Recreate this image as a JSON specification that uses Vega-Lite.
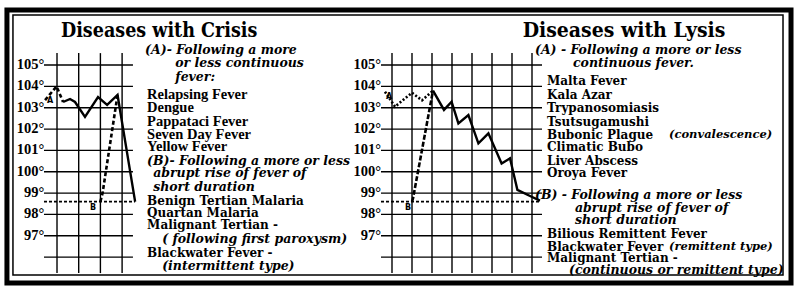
{
  "$schema": "https://vega.github.io/schema/vega-lite/v6.json",
  "width": 800,
  "height": 294,
  "autosize": {"type": "fit", "contains": "padding"},
  "padding": 0,
  "background": "white",
  "config": {"view": {"stroke": null}},
  "datasets": {
    "gridT": [{"temp": 96}, {"temp": 97}, {"temp": 98}, {"temp": 99}, {"temp": 100}, {"temp": 101}, {"temp": 102}, {"temp": 103}, {"temp": 104}, {"temp": 105}],
    "ticks": [
      {"temp": 97, "label": "97°"}, {"temp": 98, "label": "98°"}, {"temp": 99, "label": "99°"},
      {"temp": 100, "label": "100°"}, {"temp": 101, "label": "101°"}, {"temp": 102, "label": "102°"},
      {"temp": 103, "label": "103°"}, {"temp": 104, "label": "104°"}, {"temp": 105, "label": "105°"}
    ],
    "crisisDays": [{"day": 1}, {"day": 2}, {"day": 3}, {"day": 4}],
    "lysisDays": [{"day": 1}, {"day": 2}, {"day": 3}, {"day": 4}, {"day": 5}, {"day": 6}, {"day": 7}, {"day": 8}],
    "crisisCurves": [
      {"series": "A onset", "day": 0.45, "temp": 103.36},
      {"series": "A onset", "day": 0.98, "temp": 104.0},
      {"series": "A onset", "day": 1.28, "temp": 103.27},
      {"series": "A", "day": 1.28, "temp": 103.27},
      {"series": "A", "day": 1.6, "temp": 103.41},
      {"series": "A", "day": 1.83, "temp": 103.27},
      {"series": "A", "day": 2.29, "temp": 102.57},
      {"series": "A", "day": 2.89, "temp": 103.5},
      {"series": "A", "day": 3.31, "temp": 103.13},
      {"series": "A", "day": 3.79, "temp": 103.6},
      {"series": "A", "day": 4.6, "temp": 98.6},
      {"series": "B onset", "day": 3.0, "temp": 98.6},
      {"series": "B onset", "day": 3.1, "temp": 99.0},
      {"series": "B onset", "day": 3.79, "temp": 103.6},
      {"series": "Normal", "day": 0.4, "temp": 98.6},
      {"series": "Normal", "day": 4.6, "temp": 98.6}
    ],
    "lysisCurves": [
      {"series": "A onset", "day": 0.65, "temp": 103.75},
      {"series": "A onset", "day": 1.15, "temp": 103.05},
      {"series": "A onset", "day": 2.0, "temp": 103.7},
      {"series": "A onset", "day": 2.5, "temp": 103.35},
      {"series": "A onset", "day": 3.05, "temp": 103.8},
      {"series": "A", "day": 3.05, "temp": 103.8},
      {"series": "A", "day": 3.6, "temp": 102.9},
      {"series": "A", "day": 3.98, "temp": 103.28},
      {"series": "A", "day": 4.32, "temp": 102.27},
      {"series": "A", "day": 4.82, "temp": 102.66},
      {"series": "A", "day": 5.32, "temp": 101.33},
      {"series": "A", "day": 5.82, "temp": 101.8},
      {"series": "A", "day": 6.48, "temp": 100.39},
      {"series": "A", "day": 6.9, "temp": 100.63},
      {"series": "A", "day": 7.27, "temp": 99.15},
      {"series": "A", "day": 7.98, "temp": 98.83},
      {"series": "A", "day": 8.4, "temp": 98.65},
      {"series": "B onset", "day": 2.0, "temp": 98.6},
      {"series": "B onset", "day": 2.05, "temp": 98.75},
      {"series": "B onset", "day": 3.05, "temp": 103.8},
      {"series": "Normal", "day": 0.45, "temp": 98.6},
      {"series": "Normal", "day": 8.4, "temp": 98.6}
    ],
    "crisisText": [
      {"kind": "title", "group": "", "text": "Diseases with Crisis", "day": 5.707, "temp": 106.6},
      {"kind": "note", "group": "A", "text": "(A)- Following a more", "day": 5.06, "temp": 105.706},
      {"kind": "note", "group": "A", "text": "or less continuous", "day": 6.45, "temp": 105.097},
      {"kind": "note", "group": "A", "text": "fever:", "day": 6.45, "temp": 104.441},
      {"kind": "disease", "group": "A", "text": "Relapsing Fever", "day": 5.153, "temp": 103.597},
      {"kind": "disease", "group": "A", "text": "Dengue", "day": 5.153, "temp": 102.988},
      {"kind": "disease", "group": "A", "text": "Pappataci Fever", "day": 5.153, "temp": 102.332},
      {"kind": "disease", "group": "A", "text": "Seven Day Fever", "day": 5.153, "temp": 101.722},
      {"kind": "disease", "group": "A", "text": "Yellow Fever", "day": 5.153, "temp": 101.16},
      {"kind": "note", "group": "B", "text": "(B)- Following a more or less", "day": 5.153, "temp": 100.504},
      {"kind": "note", "group": "B", "text": "abrupt rise of fever of", "day": 5.43, "temp": 99.941},
      {"kind": "note", "group": "B", "text": "short duration", "day": 5.43, "temp": 99.285},
      {"kind": "disease", "group": "B", "text": "Benign Tertian Malaria", "day": 5.153, "temp": 98.629},
      {"kind": "disease", "group": "B", "text": "Quartan Malaria", "day": 5.153, "temp": 98.067},
      {"kind": "disease", "group": "B", "text": "Malignant Tertian -", "day": 5.153, "temp": 97.504},
      {"kind": "note", "group": "B", "text": "( following first paroxysm)", "day": 5.845, "temp": 96.848},
      {"kind": "disease", "group": "B", "text": "Blackwater Fever -", "day": 5.153, "temp": 96.192},
      {"kind": "note", "group": "B", "text": "(intermittent type)", "day": 5.845, "temp": 95.582},
      {"kind": "mark", "group": "A", "text": "A", "day": 0.68, "temp": 103.32},
      {"kind": "mark", "group": "B", "text": "B", "day": 2.66, "temp": 98.3}
    ],
    "lysisText": [
      {"kind": "title", "text": "Diseases with Lysis", "day": 12.6, "temp": 106.6},
      {"kind": "note", "text": "(A) - Following a more or less", "day": 8.15, "temp": 105.706},
      {"kind": "note", "text": "continuous fever.", "day": 10.05, "temp": 105.097},
      {"kind": "disease", "text": "Malta Fever", "day": 8.75, "temp": 104.253},
      {"kind": "disease", "text": "Kala Azar", "day": 8.75, "temp": 103.597},
      {"kind": "disease", "text": "Trypanosomiasis", "day": 8.75, "temp": 102.988},
      {"kind": "disease", "text": "Tsutsugamushi", "day": 8.75, "temp": 102.332},
      {"kind": "disease", "text": "Bubonic Plague", "day": 8.75, "temp": 101.722},
      {"kind": "qualifier", "text": "(convalescence)", "day": 14.85, "temp": 101.722},
      {"kind": "disease", "text": "Climatic Bubo", "day": 8.75, "temp": 101.16},
      {"kind": "disease", "text": "Liver Abscess", "day": 8.75, "temp": 100.504},
      {"kind": "disease", "text": "Oroya Fever", "day": 8.75, "temp": 99.941},
      {"kind": "note", "text": "(B) - Following a more or less", "day": 8.15, "temp": 98.91},
      {"kind": "note", "text": "abrupt rise of fever of", "day": 10.15, "temp": 98.301},
      {"kind": "note", "text": "short duration", "day": 10.15, "temp": 97.738},
      {"kind": "disease", "text": "Bilious Remittent Fever", "day": 8.75, "temp": 97.082},
      {"kind": "disease", "text": "Blackwater Fever", "day": 8.75, "temp": 96.473},
      {"kind": "qualifier", "text": "(remittent type)", "day": 14.85, "temp": 96.473},
      {"kind": "disease", "text": "Malignant Tertian -", "day": 8.75, "temp": 95.957},
      {"kind": "note", "text": "(continuous or remittent type)", "day": 9.85, "temp": 95.395},
      {"kind": "mark", "text": "A", "day": 0.85, "temp": 103.5},
      {"kind": "mark", "text": "B", "day": 1.8, "temp": 98.3}
    ]
  },
  "resolve": {"scale": {"x": "independent"}},
  "layer": [
    {
      "layer": [
        {
          "data": {"values": [{"frame": "outer"}]},
          "mark": {"type": "rect", "fillOpacity": 0, "stroke": "black", "strokeWidth": 5},
          "encoding": {
            "x": {"datum": -1.307, "type": "quantitative", "scale": {"domain": [-1.627, 35.24], "nice": false, "zero": false}, "axis": null},
            "x2": {"datum": 34.826},
            "y": {"datum": 107.581, "type": "quantitative", "scale": {"domain": [94.27, 108.05], "nice": false, "zero": false}, "axis": null},
            "y2": {"datum": 94.785}
          }
        },
        {
          "data": {"values": [{"frame": "inner"}]},
          "mark": {"type": "rect", "fillOpacity": 0, "stroke": "black", "strokeWidth": 1.5},
          "encoding": {
            "x": {"datum": -1.03, "type": "quantitative", "scale": {"domain": [-1.627, 35.24], "nice": false, "zero": false}, "axis": null},
            "x2": {"datum": 34.457},
            "y": {"datum": 107.347, "type": "quantitative", "scale": {"domain": [94.27, 108.05], "nice": false, "zero": false}, "axis": null},
            "y2": {"datum": 95.16}
          }
        },
        {
          "data": {"name": "gridT"},
          "mark": {"type": "rule", "color": "black", "strokeWidth": 1.4},
          "encoding": {
            "x": {"datum": 0.4, "type": "quantitative", "scale": {"domain": [-1.627, 35.24], "nice": false, "zero": false}, "axis": null},
            "x2": {"datum": 4.5},
            "y": {"field": "temp", "type": "quantitative", "scale": {"domain": [94.27, 108.05], "nice": false, "zero": false}, "axis": null}
          }
        },
        {
          "data": {"name": "crisisDays"},
          "mark": {"type": "rule", "color": "black", "strokeWidth": 1.4},
          "encoding": {
            "x": {"field": "day", "type": "quantitative", "scale": {"domain": [-1.627, 35.24], "nice": false, "zero": false}, "axis": null},
            "y": {"datum": 95.25, "type": "quantitative", "scale": {"domain": [94.27, 108.05], "nice": false, "zero": false}, "axis": null},
            "y2": {"datum": 105.56}
          }
        },
        {
          "data": {"name": "ticks"},
          "mark": {"type": "text", "align": "right", "baseline": "middle", "font": "Liberation Serif", "fontWeight": "bold", "fontSize": 14.5, "color": "black"},
          "encoding": {
            "x": {"datum": 0.42, "type": "quantitative", "scale": {"domain": [-1.627, 35.24], "nice": false, "zero": false}, "axis": null},
            "y": {"field": "temp", "type": "quantitative", "scale": {"domain": [94.27, 108.05], "nice": false, "zero": false}, "axis": null},
            "text": {"field": "label"}
          }
        },
        {
          "data": {"name": "crisisCurves"},
          "transform": [{"filter": "datum.series === 'Normal'"}],
          "mark": {"type": "line", "color": "black", "strokeWidth": 1.8, "strokeDash": [3, 2]},
          "encoding": {
            "x": {"field": "day", "type": "quantitative", "scale": {"domain": [-1.627, 35.24], "nice": false, "zero": false}, "axis": null},
            "y": {"field": "temp", "type": "quantitative", "scale": {"domain": [94.27, 108.05], "nice": false, "zero": false}, "axis": null},
            "detail": {"field": "series"}
          }
        },
        {
          "data": {"name": "crisisCurves"},
          "transform": [{"filter": "datum.series === 'A onset' || datum.series === 'B onset'"}],
          "mark": {"type": "line", "color": "black", "strokeWidth": 2.6, "strokeDash": [4, 2.5]},
          "encoding": {
            "x": {"field": "day", "type": "quantitative", "scale": {"domain": [-1.627, 35.24], "nice": false, "zero": false}, "axis": null},
            "y": {"field": "temp", "type": "quantitative", "scale": {"domain": [94.27, 108.05], "nice": false, "zero": false}, "axis": null},
            "detail": {"field": "series"}
          }
        },
        {
          "data": {"name": "crisisCurves"},
          "transform": [{"filter": "datum.series === 'A'"}],
          "mark": {"type": "line", "color": "black", "strokeWidth": 2.4},
          "encoding": {
            "x": {"field": "day", "type": "quantitative", "scale": {"domain": [-1.627, 35.24], "nice": false, "zero": false}, "axis": null},
            "y": {"field": "temp", "type": "quantitative", "scale": {"domain": [94.27, 108.05], "nice": false, "zero": false}, "axis": null},
            "detail": {"field": "series"}
          }
        },
        {
          "data": {"name": "crisisText"},
          "transform": [{"filter": "datum.kind === 'title'"}],
          "mark": {"type": "text", "align": "center", "baseline": "middle", "font": "DejaVu Serif Condensed", "fontWeight": "bold", "fontSize": 19.5, "color": "black"},
          "encoding": {
            "x": {"field": "day", "type": "quantitative", "scale": {"domain": [-1.627, 35.24], "nice": false, "zero": false}, "axis": null},
            "y": {"field": "temp", "type": "quantitative", "scale": {"domain": [94.27, 108.05], "nice": false, "zero": false}, "axis": null},
            "text": {"field": "text"}
          }
        },
        {
          "data": {"name": "crisisText"},
          "transform": [{"filter": "datum.kind === 'note'"}],
          "mark": {"type": "text", "align": "left", "baseline": "middle", "font": "DejaVu Serif", "fontStyle": "italic", "fontWeight": "bold", "fontSize": 12.5, "color": "black"},
          "encoding": {
            "x": {"field": "day", "type": "quantitative", "scale": {"domain": [-1.627, 35.24], "nice": false, "zero": false}, "axis": null},
            "y": {"field": "temp", "type": "quantitative", "scale": {"domain": [94.27, 108.05], "nice": false, "zero": false}, "axis": null},
            "text": {"field": "text"}
          }
        },
        {
          "data": {"name": "crisisText"},
          "transform": [{"filter": "datum.kind === 'disease' && datum.group === 'A'"}],
          "mark": {"type": "text", "align": "left", "baseline": "middle", "font": "Liberation Serif", "fontWeight": "bold", "fontSize": 14.5, "color": "black"},
          "encoding": {
            "x": {"field": "day", "type": "quantitative", "scale": {"domain": [-1.627, 35.24], "nice": false, "zero": false}, "axis": null},
            "y": {"field": "temp", "type": "quantitative", "scale": {"domain": [94.27, 108.05], "nice": false, "zero": false}, "axis": null},
            "text": {"field": "text"}
          }
        },
        {
          "data": {"name": "crisisText"},
          "transform": [{"filter": "datum.kind === 'disease' && datum.group === 'B'"}],
          "mark": {"type": "text", "align": "left", "baseline": "middle", "font": "DejaVu Serif", "fontWeight": "bold", "fontSize": 12, "color": "black"},
          "encoding": {
            "x": {"field": "day", "type": "quantitative", "scale": {"domain": [-1.627, 35.24], "nice": false, "zero": false}, "axis": null},
            "y": {"field": "temp", "type": "quantitative", "scale": {"domain": [94.27, 108.05], "nice": false, "zero": false}, "axis": null},
            "text": {"field": "text"}
          }
        },
        {
          "data": {"name": "crisisText"},
          "transform": [{"filter": "datum.kind === 'mark'"}],
          "mark": {"type": "text", "align": "center", "baseline": "middle", "font": "DejaVu Sans", "fontWeight": "bold", "fontSize": 8, "color": "black"},
          "encoding": {
            "x": {"field": "day", "type": "quantitative", "scale": {"domain": [-1.627, 35.24], "nice": false, "zero": false}, "axis": null},
            "y": {"field": "temp", "type": "quantitative", "scale": {"domain": [94.27, 108.05], "nice": false, "zero": false}, "axis": null},
            "text": {"field": "text"}
          }
        }
      ]
    },
    {
      "layer": [
        {
          "data": {"name": "gridT"},
          "mark": {"type": "rule", "color": "black", "strokeWidth": 1.4},
          "encoding": {
            "x": {"datum": 0.45, "type": "quantitative", "scale": {"domain": [-18.6, 21.4], "nice": false, "zero": false}, "axis": null},
            "x2": {"datum": 8.5},
            "y": {"field": "temp", "type": "quantitative", "scale": {"domain": [94.27, 108.05], "nice": false, "zero": false}, "axis": null}
          }
        },
        {
          "data": {"name": "lysisDays"},
          "mark": {"type": "rule", "color": "black", "strokeWidth": 1.4},
          "encoding": {
            "x": {"field": "day", "type": "quantitative", "scale": {"domain": [-18.6, 21.4], "nice": false, "zero": false}, "axis": null},
            "y": {"datum": 95.25, "type": "quantitative", "scale": {"domain": [94.27, 108.05], "nice": false, "zero": false}, "axis": null},
            "y2": {"datum": 105.56}
          }
        },
        {
          "data": {"name": "ticks"},
          "mark": {"type": "text", "align": "right", "baseline": "middle", "font": "Liberation Serif", "fontWeight": "bold", "fontSize": 14.5, "color": "black"},
          "encoding": {
            "x": {"datum": 0.45, "type": "quantitative", "scale": {"domain": [-18.6, 21.4], "nice": false, "zero": false}, "axis": null},
            "y": {"field": "temp", "type": "quantitative", "scale": {"domain": [94.27, 108.05], "nice": false, "zero": false}, "axis": null},
            "text": {"field": "label"}
          }
        },
        {
          "data": {"name": "lysisCurves"},
          "transform": [{"filter": "datum.series === 'Normal'"}],
          "mark": {"type": "line", "color": "black", "strokeWidth": 1.8, "strokeDash": [3, 2]},
          "encoding": {
            "x": {"field": "day", "type": "quantitative", "scale": {"domain": [-18.6, 21.4], "nice": false, "zero": false}, "axis": null},
            "y": {"field": "temp", "type": "quantitative", "scale": {"domain": [94.27, 108.05], "nice": false, "zero": false}, "axis": null},
            "detail": {"field": "series"}
          }
        },
        {
          "data": {"name": "lysisCurves"},
          "transform": [{"filter": "datum.series === 'A onset'"}],
          "mark": {"type": "line", "color": "black", "strokeWidth": 2.6, "strokeDash": [2, 2]},
          "encoding": {
            "x": {"field": "day", "type": "quantitative", "scale": {"domain": [-18.6, 21.4], "nice": false, "zero": false}, "axis": null},
            "y": {"field": "temp", "type": "quantitative", "scale": {"domain": [94.27, 108.05], "nice": false, "zero": false}, "axis": null},
            "detail": {"field": "series"}
          }
        },
        {
          "data": {"name": "lysisCurves"},
          "transform": [{"filter": "datum.series === 'B onset'"}],
          "mark": {"type": "line", "color": "black", "strokeWidth": 2.6, "strokeDash": [5, 2]},
          "encoding": {
            "x": {"field": "day", "type": "quantitative", "scale": {"domain": [-18.6, 21.4], "nice": false, "zero": false}, "axis": null},
            "y": {"field": "temp", "type": "quantitative", "scale": {"domain": [94.27, 108.05], "nice": false, "zero": false}, "axis": null},
            "detail": {"field": "series"}
          }
        },
        {
          "data": {"name": "lysisCurves"},
          "transform": [{"filter": "datum.series === 'A'"}],
          "mark": {"type": "line", "color": "black", "strokeWidth": 2.4},
          "encoding": {
            "x": {"field": "day", "type": "quantitative", "scale": {"domain": [-18.6, 21.4], "nice": false, "zero": false}, "axis": null},
            "y": {"field": "temp", "type": "quantitative", "scale": {"domain": [94.27, 108.05], "nice": false, "zero": false}, "axis": null},
            "detail": {"field": "series"}
          }
        },
        {
          "data": {"name": "lysisText"},
          "transform": [{"filter": "datum.kind === 'title'"}],
          "mark": {"type": "text", "align": "center", "baseline": "middle", "font": "DejaVu Serif Condensed", "fontWeight": "bold", "fontSize": 21, "color": "black"},
          "encoding": {
            "x": {"field": "day", "type": "quantitative", "scale": {"domain": [-18.6, 21.4], "nice": false, "zero": false}, "axis": null},
            "y": {"field": "temp", "type": "quantitative", "scale": {"domain": [94.27, 108.05], "nice": false, "zero": false}, "axis": null},
            "text": {"field": "text"}
          }
        },
        {
          "data": {"name": "lysisText"},
          "transform": [{"filter": "datum.kind === 'note'"}],
          "mark": {"type": "text", "align": "left", "baseline": "middle", "font": "DejaVu Serif", "fontStyle": "italic", "fontWeight": "bold", "fontSize": 12.5, "color": "black"},
          "encoding": {
            "x": {"field": "day", "type": "quantitative", "scale": {"domain": [-18.6, 21.4], "nice": false, "zero": false}, "axis": null},
            "y": {"field": "temp", "type": "quantitative", "scale": {"domain": [94.27, 108.05], "nice": false, "zero": false}, "axis": null},
            "text": {"field": "text"}
          }
        },
        {
          "data": {"name": "lysisText"},
          "transform": [{"filter": "datum.kind === 'qualifier'"}],
          "mark": {"type": "text", "align": "left", "baseline": "middle", "font": "DejaVu Serif", "fontStyle": "italic", "fontWeight": "bold", "fontSize": 11.5, "color": "black"},
          "encoding": {
            "x": {"field": "day", "type": "quantitative", "scale": {"domain": [-18.6, 21.4], "nice": false, "zero": false}, "axis": null},
            "y": {"field": "temp", "type": "quantitative", "scale": {"domain": [94.27, 108.05], "nice": false, "zero": false}, "axis": null},
            "text": {"field": "text"}
          }
        },
        {
          "data": {"name": "lysisText"},
          "transform": [{"filter": "datum.kind === 'disease'"}],
          "mark": {"type": "text", "align": "left", "baseline": "middle", "font": "DejaVu Serif", "fontWeight": "bold", "fontSize": 12, "color": "black"},
          "encoding": {
            "x": {"field": "day", "type": "quantitative", "scale": {"domain": [-18.6, 21.4], "nice": false, "zero": false}, "axis": null},
            "y": {"field": "temp", "type": "quantitative", "scale": {"domain": [94.27, 108.05], "nice": false, "zero": false}, "axis": null},
            "text": {"field": "text"}
          }
        },
        {
          "data": {"name": "lysisText"},
          "transform": [{"filter": "datum.kind === 'mark'"}],
          "mark": {"type": "text", "align": "center", "baseline": "middle", "font": "DejaVu Sans", "fontWeight": "bold", "fontSize": 8, "color": "black"},
          "encoding": {
            "x": {"field": "day", "type": "quantitative", "scale": {"domain": [-18.6, 21.4], "nice": false, "zero": false}, "axis": null},
            "y": {"field": "temp", "type": "quantitative", "scale": {"domain": [94.27, 108.05], "nice": false, "zero": false}, "axis": null},
            "text": {"field": "text"}
          }
        }
      ]
    }
  ]
}
